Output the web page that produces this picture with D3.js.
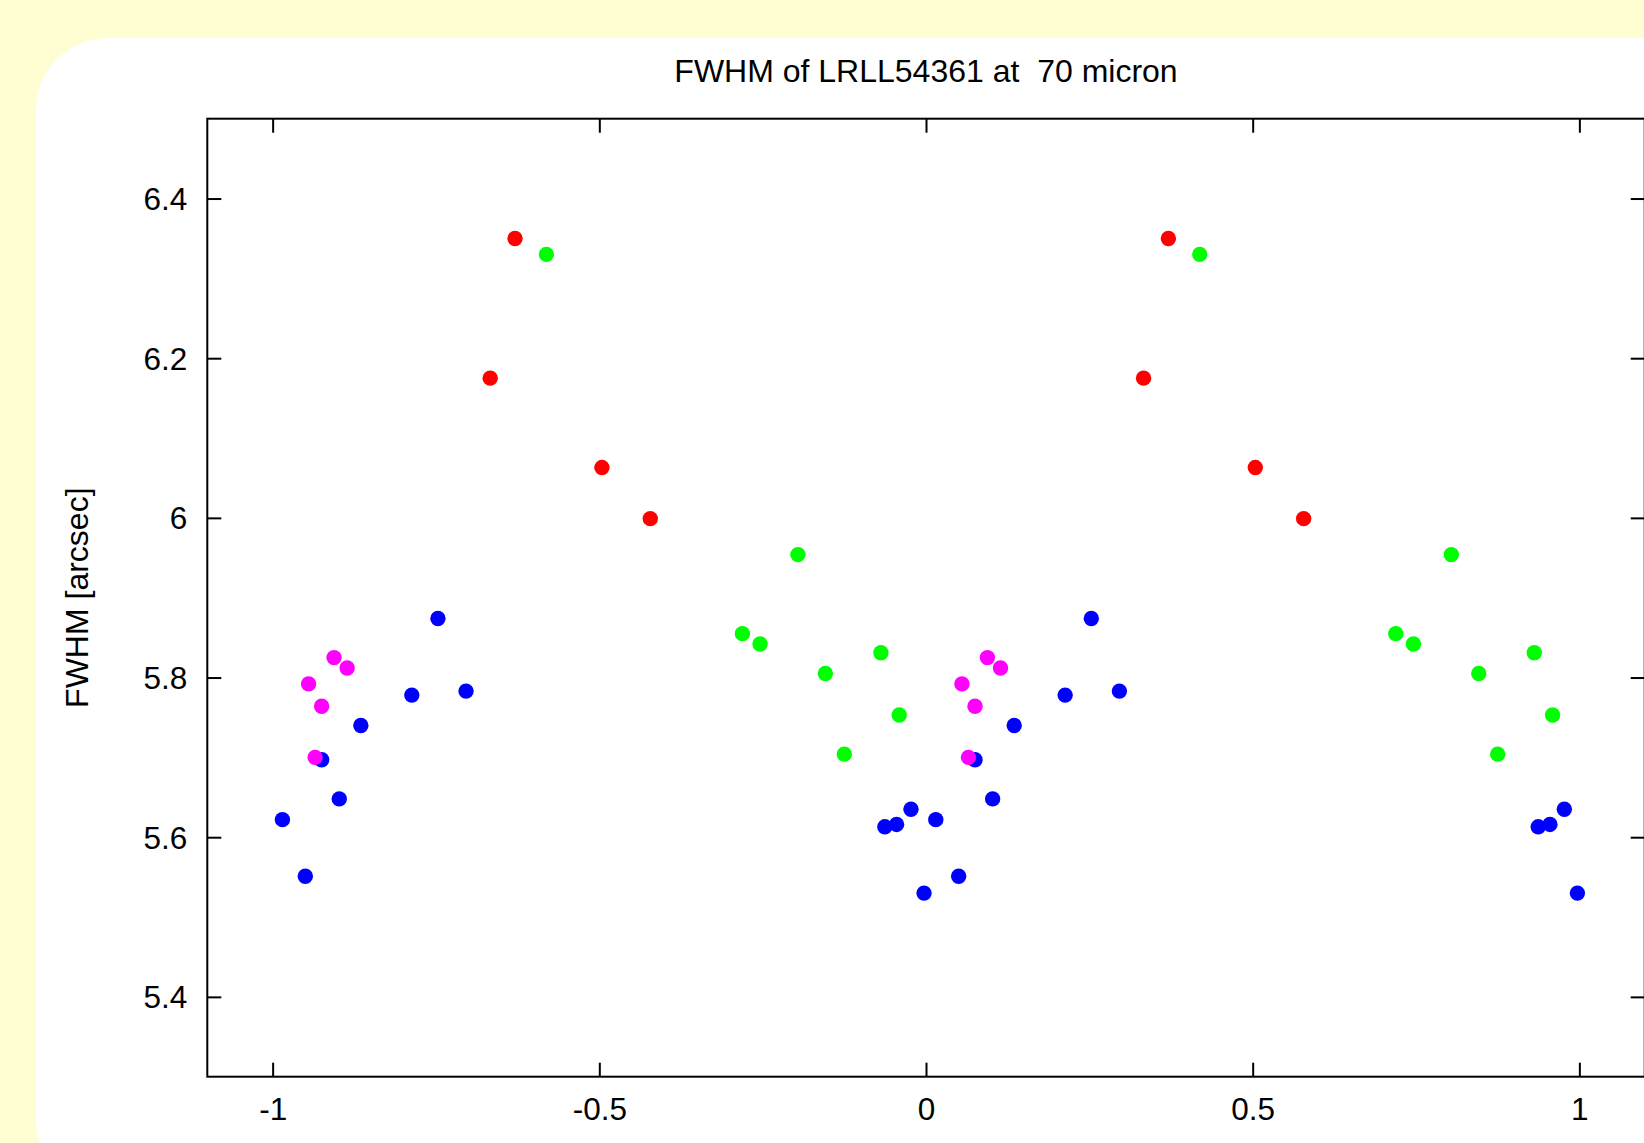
<!DOCTYPE html>
<html>
<head>
<meta charset="utf-8">
<script src="https://cdn.jsdelivr.net/npm/d3@7"></script>
<style>
  html, body { margin: 0; padding: 0; background: #fffed2; }
  svg { display: block; font-family: "Liberation Sans", Arial, Helvetica, sans-serif; }
</style>
</head>
<body>
<script>
// phase (0..1) and FWHM for each colour group; every point is drawn at phase and phase-1
const redPhase = [0.333, 0.371, 0.504, 0.578];
const redFwhm = [6.175, 6.350, 6.063, 5.999];

const greenPhase = [0.419, 0.719, 0.746, 0.804, 0.846, 0.875, 0.931, 0.959];
const greenFwhm = [6.330, 5.855, 5.842, 5.954, 5.805, 5.704, 5.831, 5.753];

const bluePhase = [0.015, 0.050, 0.075, 0.102, 0.135, 0.213, 0.253, 0.296, 0.937, 0.955, 0.977, 0.997];
const blueFwhm = [5.622, 5.551, 5.697, 5.648, 5.740, 5.778, 5.874, 5.783, 5.613, 5.616, 5.635, 5.530];

const magentaPhase = [0.055, 0.065, 0.075, 0.094, 0.114];
const magentaFwhm = [5.792, 5.700, 5.764, 5.825, 5.812];

const xTicks = [-1, -0.5, 0, 0.5, 1];
const yTicks = [5.4, 5.6, 5.8, 6, 6.2, 6.4];

const titleText = 'FWHM of LRLL54361 at\u00a0 70 micron';
const yLabel = 'FWHM [arcsec]';

const W = 1644, H = 1143;
const pLeft = 207.3, pRight = 1644.7, pTop = 118.7, pBottom = 1076.7;

const svg = d3.select('body')
  .append('svg')
  .attr('width', W)
  .attr('height', H);

svg.append('rect')
  .attr('width', W)
  .attr('height', H)
  .attr('fill', '#fffed2');

// white panel with rounded corners
svg.append('rect')
  .attr('x', 36)
  .attr('y', 38)
  .attr('width', 1700)
  .attr('height', 1154)
  .attr('rx', 72)
  .attr('fill', '#fff');

const x = d3.scaleLinear().domain([-1.1, 1.1]).range([pLeft, pRight]);
const y = d3.scaleLinear().domain([5.3, 6.5]).range([pBottom, pTop]);

const groups = [
  { phase: redPhase, fwhm: redFwhm, color: '#ff0000' },
  { phase: greenPhase, fwhm: greenFwhm, color: '#00ff00' },
  { phase: bluePhase, fwhm: blueFwhm, color: '#0000ff' },
  { phase: magentaPhase, fwhm: magentaFwhm, color: '#ff00ff' }
];

groups.forEach(g => {
  let pts = [];
  g.phase.forEach((p, i) => {
    pts.push({ x: p - 1, y: g.fwhm[i] });
    pts.push({ x: p, y: g.fwhm[i] });
  });
  svg.append('g')
    .selectAll('circle')
    .data(pts)
    .enter()
    .append('circle')
    .attr('cx', d => x(d.x))
    .attr('cy', d => y(d.y))
    .attr('r', 7.7)
    .attr('fill', g.color);
});

const fmt = d => String(d);

svg.append('g')
  .attr('transform', `translate(0,${pBottom})`)
  .call(d3.axisBottom(x).tickValues(xTicks).tickFormat(fmt).tickSizeInner(-14).tickSizeOuter(0).tickPadding(21));

svg.append('g')
  .attr('transform', `translate(0,${pTop})`)
  .call(d3.axisTop(x).tickValues(xTicks).tickFormat('').tickSizeInner(-14).tickSizeOuter(0));

const yAxisG = svg.append('g')
  .attr('transform', `translate(${pLeft},0)`)
  .call(d3.axisLeft(y).tickValues(yTicks).tickFormat(fmt).tickSizeInner(-14).tickSizeOuter(0).tickPadding(20));

svg.append('g')
  .attr('transform', `translate(${pRight},0)`)
  .call(d3.axisRight(y).tickValues(yTicks).tickFormat('').tickSizeInner(-14).tickSizeOuter(0));

svg.selectAll('.domain').remove();
svg.selectAll('.tick line').attr('stroke', '#000').attr('stroke-width', 2);
svg.selectAll('.tick text')
  .attr('fill', '#000')
  .style('font-size', '31.5px')
  .style('font-family', '"Liberation Sans", Arial, Helvetica, sans-serif');
yAxisG.selectAll('.tick text').attr('dy', '0.35em');

// frame
svg.append('rect')
  .attr('x', pLeft)
  .attr('y', pTop)
  .attr('width', pRight - pLeft)
  .attr('height', pBottom - pTop)
  .attr('fill', 'none')
  .attr('stroke', '#000')
  .attr('stroke-width', 2);

svg.append('text')
  .attr('x', (pLeft + pRight) / 2)
  .attr('y', 82)
  .attr('text-anchor', 'middle')
  .style('font-size', '32px')
  .text(titleText);

svg.append('text')
  .attr('transform', `translate(88,${(pTop + pBottom) / 2}) rotate(-90)`)
  .attr('text-anchor', 'middle')
  .style('font-size', '32px')
  .text(yLabel);
</script>
</body>
</html>
